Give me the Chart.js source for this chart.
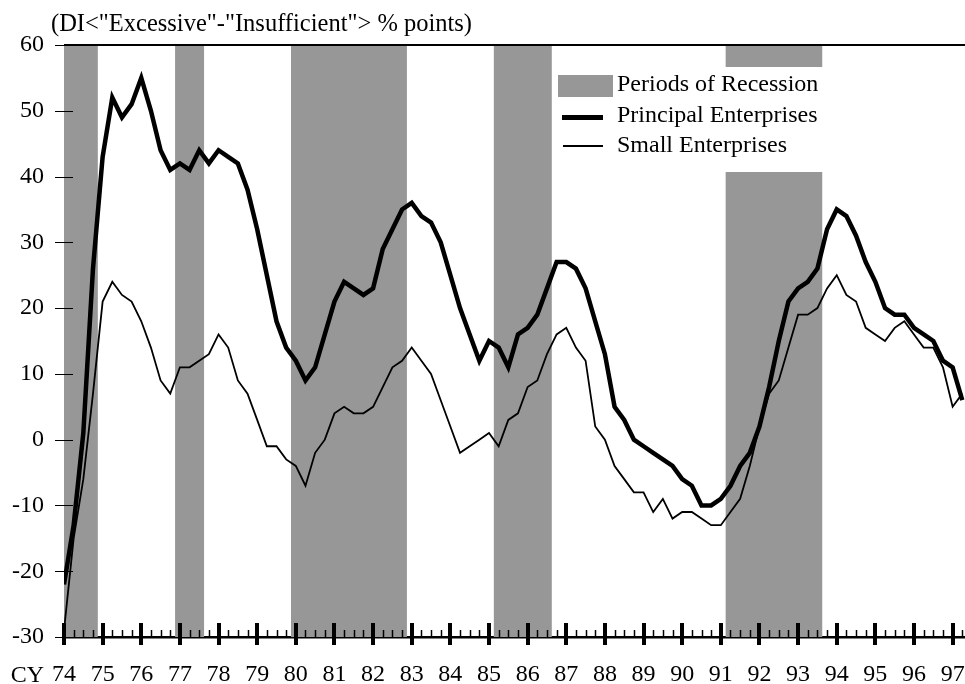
<!DOCTYPE html>
<html><head><meta charset="utf-8">
<script src="https://cdn.jsdelivr.net/npm/chart.js@4.4.1/dist/chart.umd.min.js"></script>
<style>html,body{margin:0;padding:0;background:#fff;overflow:hidden;} canvas{display:block;}</style>
</head><body>
<canvas id="c" width="965" height="684"></canvas>
<script>
// ---- data (quarterly, starting CY74 Q1) ----
const firstYear = 74;
const principal = [
  -22, -13, 1, 26, 43, 52, 49, 51, 55, 50, 44, 41, 42, 41, 44, 42, 44, 43, 42, 38, 32, 25, 18, 14,
  12, 9, 11, 16, 21, 24, 23, 22, 23, 29, 32, 35, 36, 34, 33, 30, 25, 20, 16, 12, 15, 14, 11, 16,
  17, 19, 23, 27, 27, 26, 23, 18, 13, 5, 3, 0, -1, -2, -3, -4, -6, -7, -10, -10, -9, -7, -4, -2,
  2, 8, 15, 21, 23, 24, 26, 32, 35, 34, 31, 27, 24, 20, 19, 19, 17, 16, 15, 12, 11, 6
];
const small = [
  -29, -15, -6, 7, 21, 24, 22, 21, 18, 14, 9, 7, 11, 11, 12, 13, 16, 14, 9, 7, 3, -1, -1, -3,
  -4, -7, -2, 0, 4, 5, 4, 4, 5, 8, 11, 12, 14, 12, 10, 6, 2, -2, -1, 0, 1, -1, 3, 4,
  8, 9, 13, 16, 17, 14, 12, 2, 0, -4, -6, -8, -8, -11, -9, -12, -11, -11, -12, -13, -13, -11, -9, -4,
  2, 7, 9, 14, 19, 19, 20, 23, 25, 22, 21, 17, 16, 15, 17, 18, 16, 14, 14, 11, 5, 7
];
// quarter categories (position on the year axis)
const quarters = principal.map((_, i) => firstYear + i / 4);
// recession periods (year axis units)
const recessionStart = [74, 76.875, 79.875, 85.125, 91.125];
const recessionEnd   = [74.875, 77.625, 82.875, 86.625, 93.625];
// axis settings
const yMin = -30, yMax = 60, yStep = 10;
const xMin = 74, xMax = 97.32;
// texts
const titleText = '(DI<"Excessive"-"Insufficient"> % points)';
const xPrefix = 'CY';
const legendLabels = ['Periods of Recession', 'Principal Enterprises', 'Small Enterprises'];

const FONT = "'Liberation Serif', 'Times New Roman', serif";
const GRAY = '#979797';

const decor = {
  id: 'decor',
  beforeDatasetsDraw(chart) {
    const {ctx, chartArea: a, scales: {x}} = chart;
    ctx.save();
    ctx.fillStyle = GRAY;
    for (let k = 0; k < recessionStart.length; k++) {
      const x1 = Math.max(x.getPixelForValue(recessionStart[k]), a.left);
      const x2 = Math.min(x.getPixelForValue(recessionEnd[k]), a.right);
      ctx.fillRect(x1, a.top, x2 - x1, a.bottom - a.top);
    }
    ctx.restore();
  },
  afterDatasetsDraw(chart) {
    const {ctx} = chart;
    ctx.save();
    // legend
    ctx.fillStyle = '#fff';
    ctx.fillRect(553, 67, 282, 105);
    ctx.fillStyle = GRAY;
    ctx.fillRect(558, 75, 55, 22);
    ctx.strokeStyle = '#000';
    ctx.lineWidth = 5;
    ctx.beginPath(); ctx.moveTo(562, 117.5); ctx.lineTo(603, 117.5); ctx.stroke();
    ctx.lineWidth = 2;
    ctx.beginPath(); ctx.moveTo(563, 146); ctx.lineTo(603, 146); ctx.stroke();
    ctx.fillStyle = '#000';
    ctx.font = '24px ' + FONT;
    ctx.textBaseline = 'alphabetic';
    ctx.textAlign = 'left';
    ctx.fillText(legendLabels[0], 617, 91);
    ctx.fillText(legendLabels[1], 617, 122);
    ctx.fillText(legendLabels[2], 617, 152);
    ctx.restore();
  },
  afterDraw(chart) {
    const {ctx, chartArea: a, scales: {x, y}} = chart;
    ctx.save();
    ctx.strokeStyle = '#000';
    // top frame line
    ctx.lineWidth = 2;
    ctx.beginPath(); ctx.moveTo(a.left, a.top); ctx.lineTo(a.right, a.top); ctx.stroke();
    // x ticks: major (years) crossing, minor (quarters) above
    for (let q = xMin * 4; q <= xMax * 4; q++) {
      const v = q / 4;
      const px = Math.round(x.getPixelForValue(v));
      ctx.beginPath();
      if (q % 4 === 0) {
        ctx.lineWidth = 4;
        ctx.moveTo(px, a.bottom - 14); ctx.lineTo(px, a.bottom + 8);
      } else {
        ctx.lineWidth = 1.5;
        ctx.moveTo(px + 0.5, a.bottom - 7); ctx.lineTo(px + 0.5, a.bottom);
      }
      ctx.stroke();
    }
    // y ticks crossing the axis
    ctx.lineWidth = 1;
    for (let v = yMin; v <= yMax; v += yStep) {
      const py = Math.round(y.getPixelForValue(v)) + 0.5;
      ctx.beginPath(); ctx.moveTo(a.left - 9, py); ctx.lineTo(a.left + 9, py); ctx.stroke();
    }
    // title and CY prefix
    ctx.fillStyle = '#000';
    ctx.font = '24.5px ' + FONT;
    ctx.textAlign = 'left';
    ctx.textBaseline = 'alphabetic';
    ctx.fillText(titleText, 51, 31);
    ctx.font = '24px ' + FONT;
    ctx.textAlign = 'right';
    ctx.fillText(xPrefix, 44, 682);
    ctx.restore();
  }
};

new Chart(document.getElementById('c'), {
  type: 'line',
  data: {
    datasets: [
      {
        label: legendLabels[1],
        data: principal.map((v, i) => ({x: quarters[i], y: v})),
        borderColor: '#000', borderWidth: 4.5, pointRadius: 0, tension: 0, fill: false
      },
      {
        label: legendLabels[2],
        data: small.map((v, i) => ({x: quarters[i], y: v})),
        borderColor: '#000', borderWidth: 1.8, pointRadius: 0, tension: 0, fill: false
      }
    ]
  },
  options: {
    responsive: false,
    animation: false,
    devicePixelRatio: 1,
    layout: {padding: {top: 45, right: 0, left: 0, bottom: 0}},
    plugins: {legend: {display: false}, tooltip: {enabled: false}, title: {display: false}},
    scales: {
      x: {
        type: 'linear', min: xMin, max: xMax,
        afterFit: s => { s.height = 47; },
        grid: {display: false, drawTicks: true, tickLength: 23},
        border: {display: true, color: '#000', width: 2.5},
        ticks: {
          stepSize: 1, includeBounds: false, autoSkip: false, maxRotation: 0, minRotation: 0,
          padding: 0, color: '#000', font: {family: FONT, size: 24},
          callback: v => Number.isInteger(v) ? String(v) : ''
        }
      },
      y: {
        min: yMin, max: yMax,
        afterFit: s => { s.width = 64; },
        grid: {display: false, drawTicks: true, tickLength: 20},
        border: {display: true, color: '#000', width: 1},
        ticks: {stepSize: yStep, padding: 0, color: '#000', font: {family: FONT, size: 24}}
      }
    }
  },
  plugins: [decor]
});
</script>
</body></html>
